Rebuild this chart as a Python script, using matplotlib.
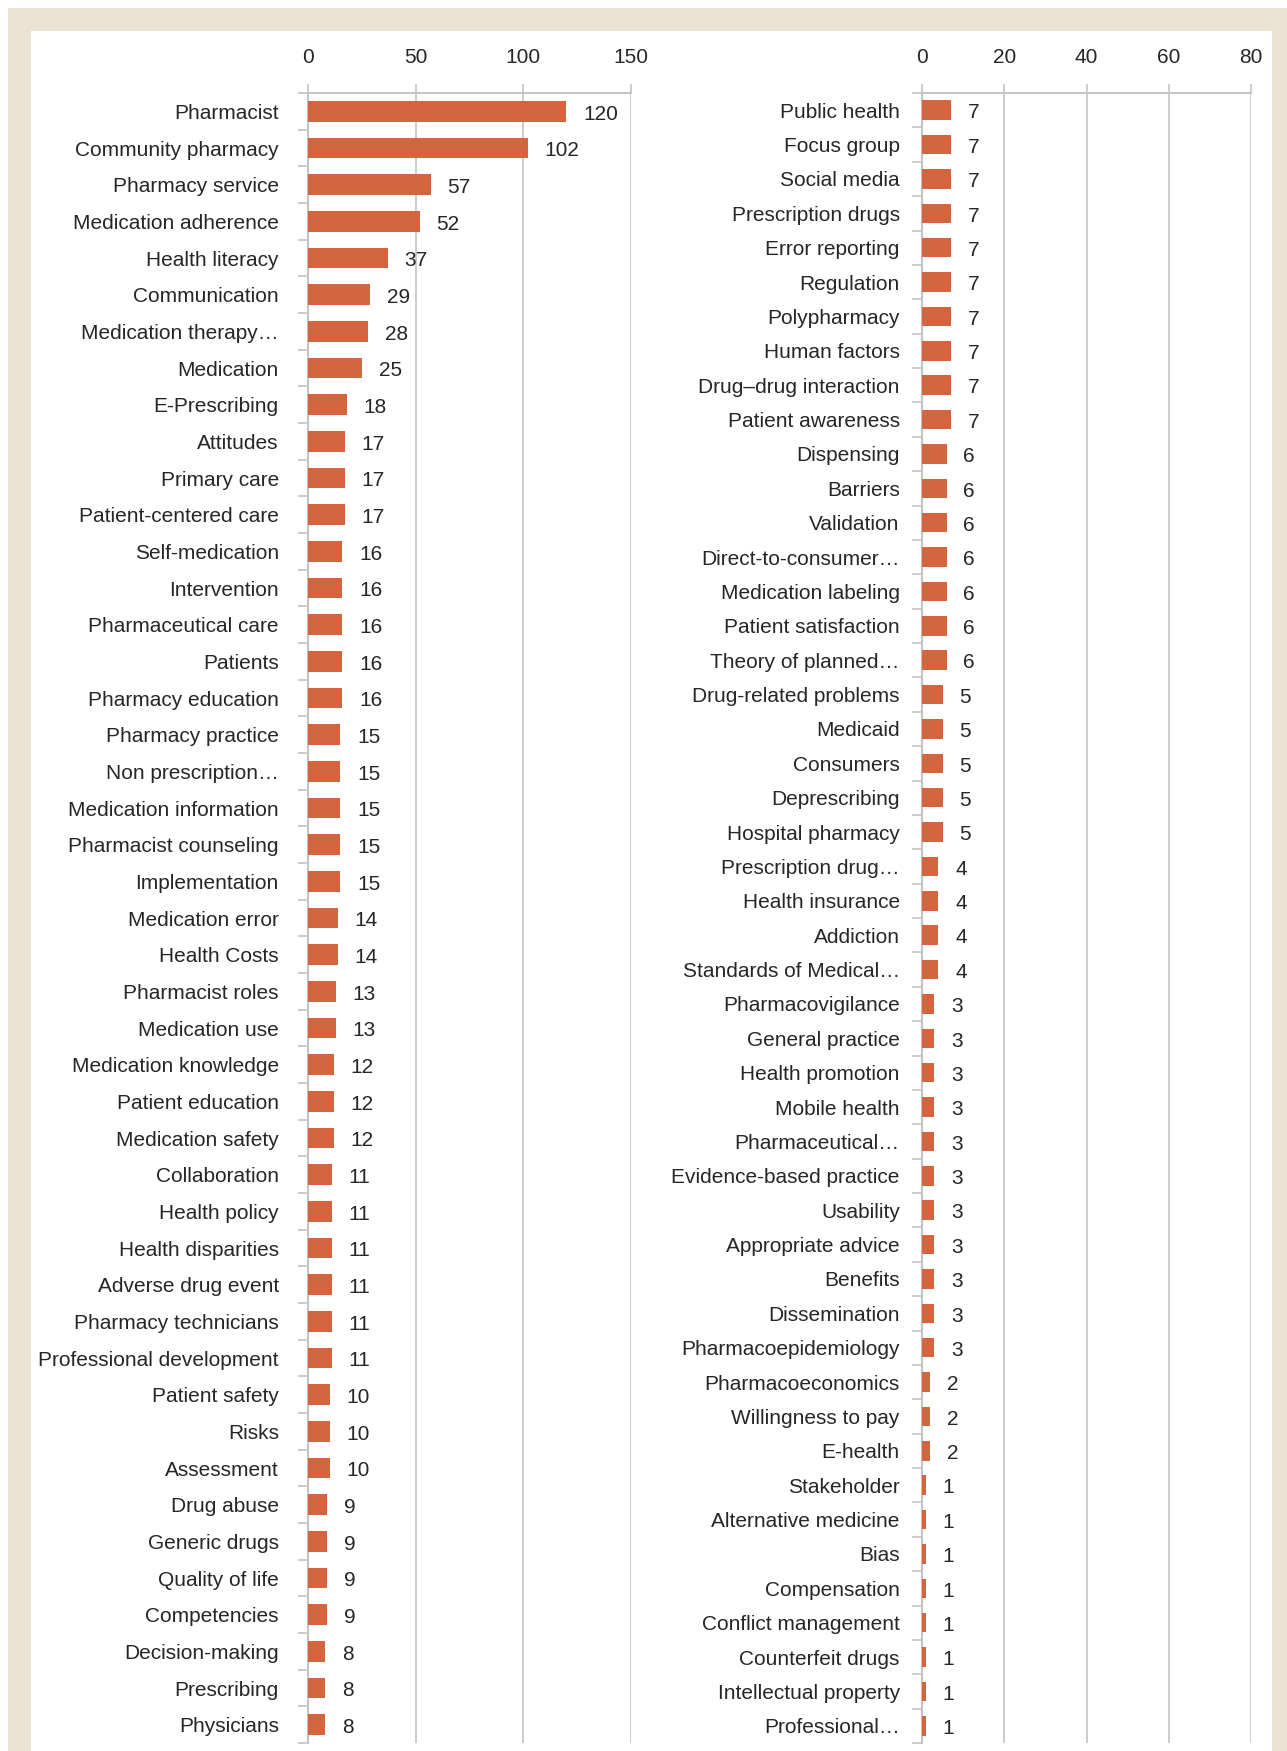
import matplotlib
matplotlib.use("Agg")
import matplotlib.pyplot as plt
from matplotlib.patches import Rectangle

plt.rcParams['font.family'] = ['Liberation Sans', 'DejaVu Sans']

left_terms = ["Pharmacist", "Community pharmacy", "Pharmacy service", "Medication adherence",
              "Health literacy", "Communication", "Medication therapy\u2026", "Medication",
              "E-Prescribing", "Attitudes", "Primary care", "Patient-centered care",
              "Self-medication", "Intervention", "Pharmaceutical care", "Patients",
              "Pharmacy education", "Pharmacy practice", "Non prescription\u2026",
              "Medication information", "Pharmacist counseling", "Implementation",
              "Medication error", "Health Costs", "Pharmacist roles", "Medication use",
              "Medication knowledge", "Patient education", "Medication safety",
              "Collaboration", "Health policy", "Health disparities", "Adverse drug event",
              "Pharmacy technicians", "Professional development", "Patient safety", "Risks",
              "Assessment", "Drug abuse", "Generic drugs", "Quality of life", "Competencies",
              "Decision-making", "Prescribing", "Physicians"]
left_counts = [120, 102, 57, 52, 37, 29, 28, 25, 18, 17, 17, 17, 16, 16, 16, 16, 16,
               15, 15, 15, 15, 15, 14, 14, 13, 13, 12, 12, 12, 11, 11, 11, 11, 11, 11,
               10, 10, 10, 9, 9, 9, 9, 8, 8, 8]
left_ticks = [0, 50, 100, 150]

right_terms = ["Public health", "Focus group", "Social media", "Prescription drugs",
               "Error reporting", "Regulation", "Polypharmacy", "Human factors",
               "Drug\u2013drug interaction", "Patient awareness", "Dispensing", "Barriers",
               "Validation", "Direct-to-consumer\u2026", "Medication labeling",
               "Patient satisfaction", "Theory of planned\u2026", "Drug-related problems",
               "Medicaid", "Consumers", "Deprescribing", "Hospital pharmacy",
               "Prescription drug\u2026", "Health insurance", "Addiction",
               "Standards of Medical\u2026", "Pharmacovigilance", "General practice",
               "Health promotion", "Mobile health", "Pharmaceutical\u2026",
               "Evidence-based practice", "Usability", "Appropriate advice", "Benefits",
               "Dissemination", "Pharmacoepidemiology", "Pharmacoeconomics",
               "Willingness to pay", "E-health", "Stakeholder", "Alternative medicine", "Bias",
               "Compensation", "Conflict management", "Counterfeit drugs",
               "Intellectual property", "Professional\u2026"]
right_counts = [7, 7, 7, 7, 7, 7, 7, 7, 7, 7, 6, 6, 6, 6, 6, 6, 6, 5, 5, 5, 5, 5,
                4, 4, 4, 4, 3, 3, 3, 3, 3, 3, 3, 3, 3, 3, 3, 2, 2, 2, 1, 1, 1, 1, 1, 1, 1, 1]
right_ticks = [0, 20, 40, 60, 80]

W, H = 1287, 1751
bar_color = "#D4643E"
grid_color = "#C4C4C6"
text_color = "#262626"
beige = "#EAE2D3"

fig = plt.figure(figsize=(W / 100, H / 100), dpi=100, facecolor="white")
fig.patches.append(Rectangle((8 / W, 0), 1, 1 - 8 / H, transform=fig.transFigure,
                             facecolor=beige, edgecolor="none", zorder=-2))
fig.patches.append(Rectangle((31 / W, 0), (1272 - 31) / W, 1 - 31 / H,
                             transform=fig.transFigure, facecolor="white",
                             edgecolor="none", zorder=-1))


def draw(ax, terms, counts, ticks, label_pad):
    n = len(terms)
    y = list(range(n))
    ax.barh(y, counts, height=0.57, color=bar_color, zorder=3)
    for yi, c in zip(y, counts):
        ax.annotate(str(c), (c, yi), xytext=(12, -2), textcoords="offset points",
                    ha="left", va="center", fontsize=15, color=text_color)
    ax.set_ylim(n - 0.5, -0.5)
    ax.set_xlim(ticks[0], ticks[-1])
    ax.set_yticks(y)
    ax.set_yticklabels(terms, fontsize=15, color=text_color)
    ax.set_yticks([i - 0.5 for i in range(n + 1)], minor=True)
    ax.tick_params(axis="y", which="major", length=0, pad=label_pad)
    ax.tick_params(axis="y", which="minor", length=7, width=1.2, color=grid_color,
                   direction="out")
    ax.xaxis.tick_top()
    ax.set_xticks(ticks)
    ax.tick_params(axis="x", which="major", length=6.5, width=1.2, color=grid_color,
                   pad=12, labelsize=15, labelcolor=text_color)
    ax.grid(axis="x", color=grid_color, linewidth=1.2, zorder=0)
    ax.set_axisbelow(True)
    for side in ("right", "bottom"):
        ax.spines[side].set_visible(False)
    for side in ("left", "top"):
        ax.spines[side].set_color(grid_color)
        ax.spines[side].set_linewidth(1.5)
    ax.set_facecolor("none")


ax1 = fig.add_axes([308 / W, 8 / H, (631 - 308) / W, 1650 / H])
draw(ax1, left_terms, left_counts, left_ticks, 21)

ax2 = fig.add_axes([922 / W, 8 / H, (1251 - 922) / W, 1650 / H])
draw(ax2, right_terms, right_counts, right_ticks, 16)

fig.savefig("out.png", dpi=100, facecolor=fig.get_facecolor())
